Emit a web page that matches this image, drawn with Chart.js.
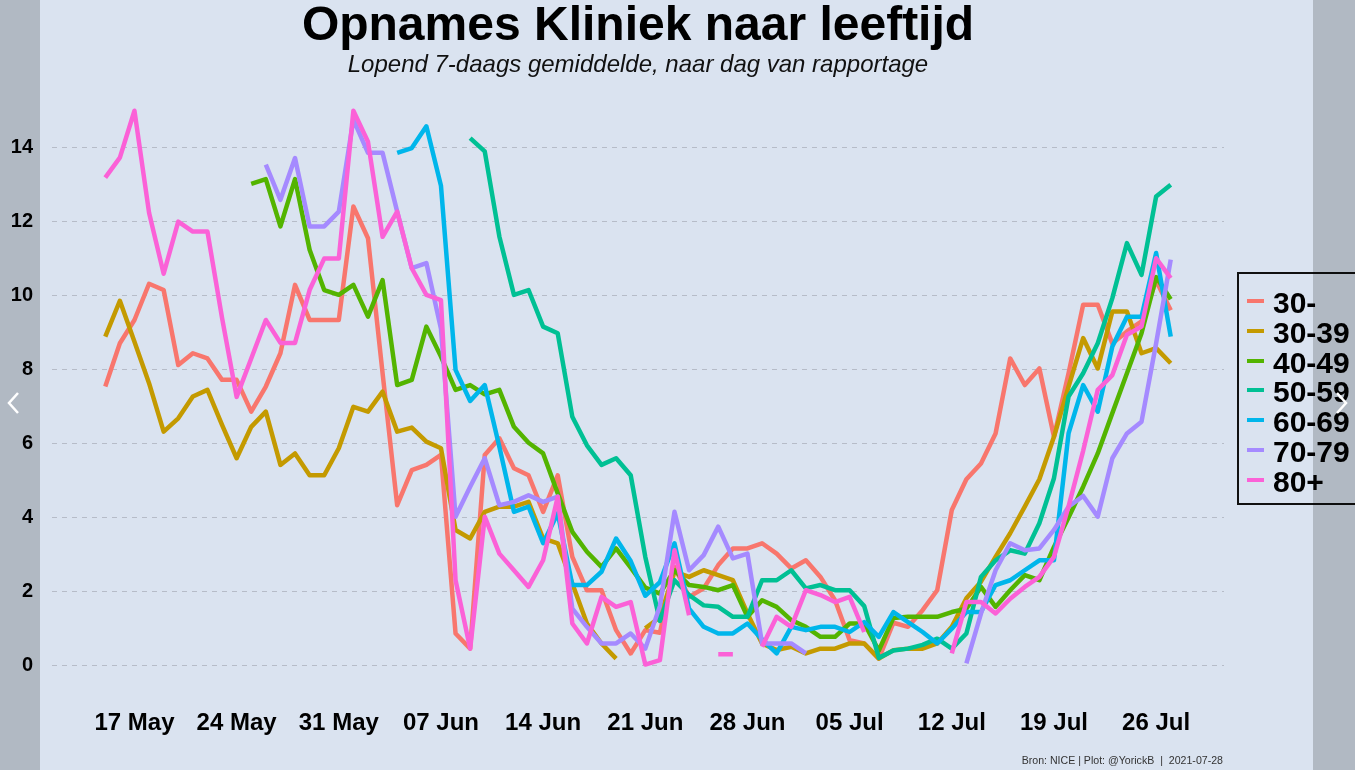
<!DOCTYPE html>
<html>
<head>
<meta charset="utf-8">
<script src="https://cdn.jsdelivr.net/npm/chart.js@4.4.1/dist/chart.umd.min.js"></script>
<style>
  html,body{margin:0;padding:0;}
  body{width:1355px;height:770px;position:relative;overflow:hidden;background:#dae3f0;font-family:"Liberation Sans",Arial,sans-serif;}
  #wrap{position:absolute;left:0;top:0;width:1355px;height:770px;}
  #title{position:absolute;left:0;width:1276px;top:0px;text-align:center;font-weight:bold;font-size:48px;line-height:48px;color:#000;}
  #subtitle{position:absolute;left:0;width:1276px;top:52px;text-align:center;font-style:italic;font-size:24px;line-height:24px;color:#111;}
  #caption{position:absolute;right:132px;top:754px;font-size:10.6px;line-height:12px;color:#333;}
  #legend{position:absolute;left:1237px;top:272px;width:150px;height:229px;border:2px solid #111;}
  .lrow{position:absolute;left:0;height:30px;width:150px;}
  .lsw{position:absolute;left:8px;top:11px;width:17px;height:4px;}
  .ltx{position:absolute;left:34px;top:0;font-weight:bold;font-size:30px;line-height:30px;color:#000;white-space:nowrap;}
  .band{position:absolute;top:0;height:770px;background:rgba(0,0,0,0.185);}
  svg.chev{position:absolute;}
</style>
</head>
<body>
<div id="wrap"><canvas id="chart" width="1355" height="770"></canvas></div>
<div id="title">Opnames Kliniek naar leeftijd</div>
<div id="subtitle">Lopend 7-daags gemiddelde, naar dag van rapportage</div>
<div id="legend"></div>
<div id="caption">Bron: NICE | Plot: @YorickB &nbsp;|&nbsp; 2021-07-28</div>
<div class="band" style="left:0;width:40px;"></div>
<div class="band" style="left:1313px;width:42px;"></div>
<svg class="chev" style="left:4px;top:390px" width="20" height="28"><polyline points="14,3 5,13 14,23" fill="none" stroke="#fff" stroke-width="2.5"/></svg>
<svg class="chev" style="left:1332px;top:390px" width="20" height="28"><polyline points="5,3 14,13 5,23" fill="none" stroke="#fff" stroke-width="2.5"/></svg>
<script>
// day index 0 = 15 May 2021 ... 73 = 27 Jul 2021
const xTickPos=[2,9,16,23,30,37,44,51,58,65,72];
const xTickLabels=['17 May','24 May','31 May','07 Jun','14 Jun','21 Jun','28 Jun','05 Jul','12 Jul','19 Jul','26 Jul'];
const yTicks=[0,2,4,6,8,10,12,14];

const seriesNames=['30-','30-39','40-49','50-59','60-69','70-79','80+'];
const seriesColors=['#F8766D','#C49A00','#53B400','#00C094','#00B6EB','#A58AFF','#FB61D7'];

const s30=[7.54,8.71,9.34,10.32,10.15,8.12,8.44,8.3,7.72,7.72,
  6.86,7.54,8.44,10.29,9.34,9.34,9.34,12.41,11.55,7.9,
  4.33,5.28,5.42,5.69,0.86,0.45,5.69,6.14,5.33,5.14,
  4.15,5.14,2.93,2.03,2.03,0.95,0.32,0.95,0.88,2.66,
  1.85,2.08,2.71,3.16,3.16,3.3,3.02,2.62,2.84,2.39,
  1.76,0.68,0.59,0.18,1.15,1.04,1.49,2.03,4.2,5.03,
  5.46,6.27,8.3,7.58,8.03,6.18,7.9,9.75,9.75,8.7,
  9.03,9.3,10.4,9.6];
const s3039=[8.89,9.86,8.75,7.63,6.32,6.68,7.27,7.45,6.5,5.6,
  6.45,6.86,5.42,5.73,5.14,5.14,5.87,6.99,6.86,7.4,
  6.32,6.43,6.05,5.87,3.66,3.43,4.15,4.29,4.29,4.42,
  3.43,3.3,2.21,1.13,0.59,0.18,null,1.0,1.3,2.53,
  2.39,2.57,2.44,2.3,1.4,0.59,0.41,0.5,0.32,0.45,
  0.45,0.59,0.59,0.18,0.41,0.45,0.45,0.59,1.04,1.81,
  2.26,2.93,3.57,4.29,5.03,6.18,7.54,8.85,8.03,9.57,
  9.57,8.44,8.58,8.17];
const s4049=[null,null,null,null,null,null,null,null,null,null,
  13.02,13.15,11.87,13.15,11.24,10.15,10.02,10.29,9.43,10.42,
  7.58,7.72,9.16,8.35,7.45,7.58,7.33,7.45,6.45,6.02,
  5.73,4.65,3.61,3.07,2.66,3.16,2.64,2.1,1.94,2.57,
  2.17,2.12,2.03,2.17,1.31,1.76,1.58,1.22,1.04,0.77,
  0.77,1.13,1.13,0.4,1.28,1.31,1.31,1.31,1.44,1.53,
  2.12,1.58,2.03,2.44,2.3,3.2,4.0,4.83,5.73,6.82,
  7.9,8.98,10.5,9.9];
const s5059=[null,null,null,null,null,null,null,null,null,null,
  null,null,null,null,null,null,null,null,null,null,
  null,null,null,null,null,14.26,13.9,11.6,10.02,10.15,
  9.16,8.98,6.72,5.95,5.42,5.6,5.14,2.93,1.2,2.3,
  1.9,1.62,1.58,1.31,1.31,2.3,2.3,2.57,2.08,2.17,
  2.03,2.03,1.6,0.2,0.4,0.45,0.55,0.72,0.45,0.86,
  2.39,2.84,3.11,3.02,3.84,5.06,7.27,7.9,8.71,9.93,
  11.42,10.56,12.68,13.0];
const s6069=[null,null,null,null,null,null,null,null,null,null,
  null,null,null,null,null,null,null,null,null,null,
  13.86,13.99,14.58,12.97,7.99,7.15,7.58,5.91,4.15,4.29,
  3.3,4.11,2.17,2.17,2.53,3.43,2.82,1.88,2.25,3.3,
  1.53,1.04,0.86,0.86,1.13,0.7,0.32,1.04,0.95,1.04,
  1.04,0.9,1.17,0.77,1.44,1.17,0.9,0.59,0.99,1.44,
  1.44,2.17,2.3,2.57,2.84,2.84,6.27,7.58,6.86,8.62,
  9.43,9.43,11.15,8.89];
const s7079=[null,null,null,null,null,null,null,null,null,null,
  null,13.54,12.59,13.72,11.87,11.87,12.27,14.76,13.86,13.86,
  12.27,10.74,10.88,9.1,4.02,4.83,5.6,4.33,4.42,4.6,
  4.42,4.56,1.53,1.04,0.59,0.59,0.86,0.45,1.6,4.15,
  2.57,2.98,3.75,2.89,3.02,0.59,0.59,0.59,0.32,null,
  null,null,null,null,null,null,null,null,null,0.05,
  1.4,2.57,3.3,3.11,3.16,3.66,4.29,4.58,4.02,5.6,
  6.27,6.59,8.71,10.97];
const s80=[13.19,13.73,15.0,12.24,10.59,12.0,11.73,11.73,9.4,7.26,
  8.3,9.34,8.72,8.72,10.15,11.0,11.0,15.0,14.16,11.59,
  12.27,10.74,10.02,9.88,2.3,0.45,4.02,3.02,2.57,2.12,
  2.84,4.56,1.13,0.59,1.85,1.58,1.71,0.02,0.14,3.11,
  1.35,null,0.3,0.3,null,0.5,1.31,1.04,2.03,1.9,
  1.71,1.85,0.9,null,null,null,null,null,0.32,1.71,
  1.71,1.4,1.8,2.12,2.39,2.93,4.3,5.8,7.45,7.85,
  8.94,9.16,11.01,10.47];

const seriesData=[s30,s3039,s4049,s5059,s6069,s7079,s80];

function pts(arr){return arr.map((v,i)=>({x:i,y:v}));}

const datasets=seriesData.map((arr,k)=>({
  label:seriesNames[k],data:pts(arr),borderColor:seriesColors[k],
  borderWidth:4.5,pointRadius:0,fill:false,tension:0,
  borderJoinStyle:'round',borderCapStyle:'butt',spanGaps:false,order:7-k
}));

const tickFont={family:'"Liberation Sans", Arial, sans-serif',weight:'bold'};

new Chart(document.getElementById('chart'),{
  type:'line',
  data:{datasets:datasets},
  options:{
    responsive:false,animation:false,
    layout:{padding:{top:83,right:131,bottom:0,left:0}},
    plugins:{legend:{display:false},tooltip:{enabled:false},title:{display:false}},
    scales:{
      x:{type:'linear',min:-3.65,max:76.65,
        afterBuildTicks:s=>{s.ticks=xTickPos.map(v=>({value:v}));},
        afterFit:s=>{s.height=77;},
        ticks:{autoSkip:false,maxRotation:0,padding:16,color:'#000',font:Object.assign({size:24},tickFont),
          callback:v=>{const j=xTickPos.indexOf(v);return j<0?'':xTickLabels[j];}},
        grid:{display:false,drawTicks:false},border:{display:false}},
      y:{type:'linear',min:-0.75,max:15.75,
        afterBuildTicks:s=>{s.ticks=yTicks.map(v=>({value:v}));},
        afterFit:s=>{s.width=52;},
        ticks:{padding:19,color:'#000',font:Object.assign({size:20},tickFont)},
        grid:{color:'#b6bcc8',lineWidth:1,drawTicks:false},
        border:{display:false,dash:[5,5]}}
    }
  }
});

// legend box
const lg=document.getElementById('legend');
seriesNames.forEach((n,k)=>{
  const row=document.createElement('div');row.className='lrow';row.style.top=(14+k*29.8)+'px';
  const sw=document.createElement('div');sw.className='lsw';sw.style.background=seriesColors[k];
  const tx=document.createElement('div');tx.className='ltx';tx.textContent=n;
  row.appendChild(sw);row.appendChild(tx);lg.appendChild(row);
});
</script>
</body>
</html>
